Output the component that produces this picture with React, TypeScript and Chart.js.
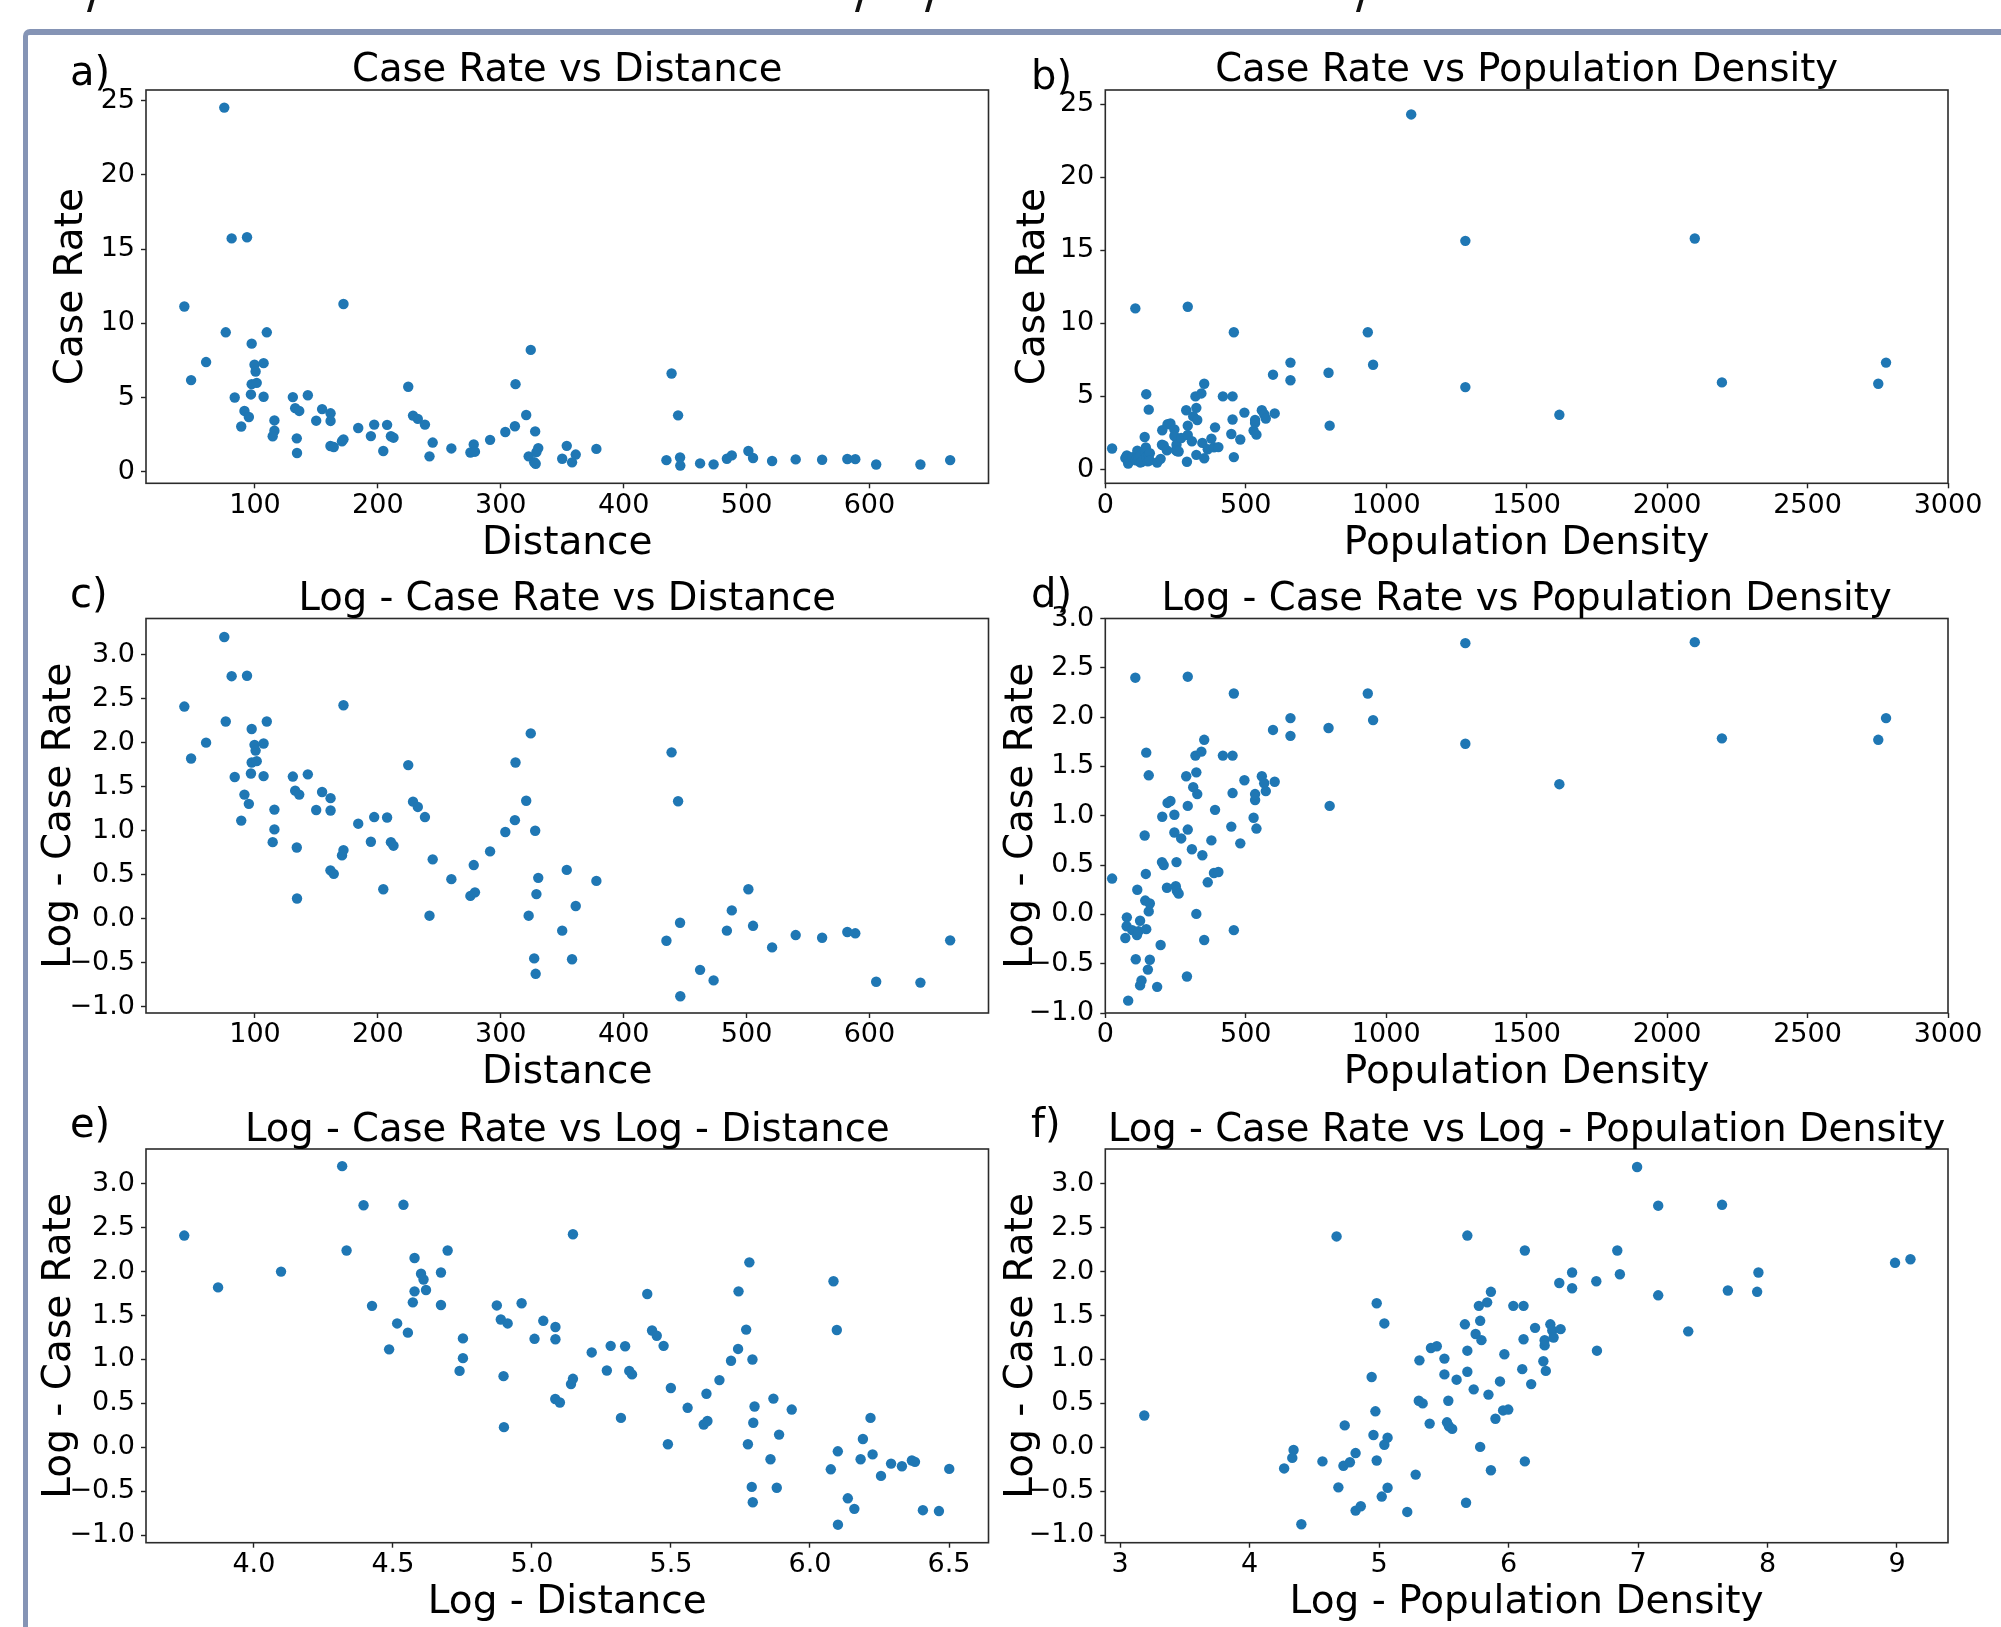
import React, { useEffect, useRef } from "react";
import { Chart, registerables } from "chart.js";

Chart.register(...registerables);

const FONT = "'DejaVu Sans', 'Liberation Sans', sans-serif";
const BLUE = "#1f77b4";

const distance = [
  75, 81, 93.5, 42.5, 172, 76.2, 109.6, 97.3, 60.2, 99.6,
  107, 100.5, 48, 97.3, 101.4, 83.5, 96.7, 107, 130.8, 143,
  91.4, 95, 88.8, 132.7, 136, 115.8, 115.8, 114.4, 134, 134.2,
  154.6, 161.5, 149.8, 161.5, 161.4, 164.1, 170.8, 172, 184, 197,
  194.3, 207.5, 210.6, 212.7, 204.4, 224.7, 228.6, 232.5, 238.3, 244.6,
  242, 259.8, 278, 275.3, 279, 291.3, 303.7, 311.5, 312, 320.7,
  324.4, 328, 322.7, 327.2, 328.4, 330.5, 329, 350, 353.7, 358,
  361, 377.8, 434.8, 439, 444.3, 445.9, 446.1, 462.2, 473.2, 484,
  488, 501.5, 505.3, 520.8, 540, 561.5, 582, 588.5, 605.5, 641.5, 665.7,
];
const logCaseRateByDistance = [
  3.2, 2.755, 2.76, 2.41, 2.425, 2.24, 2.24, 2.155, 2.0, 1.975,
  1.99, 1.91, 1.82, 1.775, 1.79, 1.61, 1.65, 1.62, 1.615, 1.64,
  1.41, 1.305, 1.115, 1.455, 1.41, 1.24, 1.015, 0.87, 0.81, 0.23,
  1.44, 1.37, 1.235, 1.23, 0.55, 0.51, 0.72, 0.78, 1.08, 1.155,
  0.875, 1.15, 0.87, 0.83, 0.335, 1.745, 1.33, 1.27, 1.155, 0.675,
  0.035, 0.45, 0.61, 0.26, 0.3, 0.765, 0.985, 1.12, 1.775, 1.34,
  2.105, 1.0, 0.035, -0.45, -0.625, 0.465, 0.28, -0.135, 0.555, -0.46,
  0.145, 0.43, -0.25, 1.89, 1.335, -0.045, -0.88, -0.58, -0.7, -0.135,
  0.095, 0.335, -0.08, -0.325, -0.185, -0.215, -0.15, -0.165, -0.715, -0.725, -0.245,
];

const logDensity = [
  3.187, 4.267, 4.34, 4.33, 4.4, 4.563, 4.672, 4.686, 4.735, 4.725,
  4.775, 4.819, 4.819, 4.859, 4.943, 4.957, 4.972, 4.982, 4.982, 5.021,
  5.041, 5.041, 5.066, 5.066, 5.218, 5.283, 5.312, 5.307, 5.337, 5.391,
  5.401, 5.446, 5.505, 5.505, 5.535, 5.525, 5.54, 5.565, 5.599, 5.663,
  5.672, 5.682, 5.682, 5.682, 5.731, 5.746, 5.771, 5.781, 5.791, 5.781,
  5.835, 5.845, 5.864, 5.864, 5.899, 5.934, 5.958, 5.968, 5.998, 6.037,
  6.106, 6.116, 6.116, 6.126, 6.126, 6.175, 6.205, 6.269, 6.279, 6.279,
  6.288, 6.323, 6.338, 6.348, 6.402, 6.392, 6.491, 6.491, 6.678, 6.683,
  6.84, 6.86, 6.993, 7.156, 7.156, 7.388, 7.649, 7.694, 7.92, 7.93, 8.985, 9.104,
];
const logCaseRateByDensity = [
  0.363, -0.24, -0.03, -0.12, -0.875, -0.16, 2.4, -0.455, 0.25, -0.21,
  -0.17, -0.065, -0.72, -0.67, 0.8, 0.14, 0.41, 1.64, -0.15, -0.56,
  1.41, 0.03, 0.11, -0.46, -0.735, -0.31, 0.99, 0.53, 0.5, 0.27,
  1.13, 1.15, 1.01, 0.83, 0.53, 0.285, 0.24, 0.21, 0.77, 1.4,
  -0.63, 2.41, 1.1, 0.86, 0.66, 1.29, 1.61, 1.44, 1.22, 0.005,
  1.65, 0.6, 1.77, -0.26, 0.325, 0.75, 0.42, 1.06, 0.43, 1.61,
  0.89, 1.61, 1.23, 2.24, -0.16, 0.72, 1.36, 0.98, 1.16, 1.22,
  0.87, 1.4, 1.33, 1.25, 1.345, 1.87, 1.99, 1.81, 1.89, 1.1,
  2.24, 1.97, 3.19, 2.75, 1.73, 1.32, 2.76, 1.785, 1.77, 1.99, 2.1, 2.14,
];

// ---- Tick values ----
const distanceTicks = [100, 200, 300, 400, 500, 600];
const densityTicks = [0, 500, 1000, 1500, 2000, 2500, 3000];
const caseRateTicks = [0, 5, 10, 15, 20, 25];
const logRateTicks = [-1, -0.5, 0, 0.5, 1, 1.5, 2, 2.5, 3];
const logDistanceTicks = [4, 4.5, 5, 5.5, 6, 6.5];
const logDensityTicks = [3, 4, 5, 6, 7, 8, 9];

const fmtInt = (v: number) => String(Math.round(v));
const fmt1 = (v: number) => v.toFixed(1).replace("-", "\u2212");

// ---- Layout (page pixels) ----
const COLS = [
  { l: 146, r: 988.5, cx: 30, cw: 968, labelX: 70 },
  { l: 1105.3, r: 1948, cx: 990, cw: 1005, labelX: 1031 },
];
const ROWS = [
  { t: 90, b: 483.3, cy: 40, ch: 530, titleY: 81, xMid: 543.5 },
  { t: 618.5, b: 1013, cy: 570, ch: 530, titleY: 610, xMid: 1073 },
  { t: 1149, b: 1542.7, cy: 1100, ch: 527, titleY: 1140.7, xMid: 1603 },
];

type Pt = { x: number; y: number };
type PanelCfg = {
  col: number;
  row: number;
  yMid: number;
  labelY: number;
  label: string;
  title: string;
  xTitle: string;
  yTitle: string;
  xMin: number;
  xMax: number;
  yMin: number;
  yMax: number;
  xTicks: number[];
  yTicks: number[];
  xFmt: (v: number) => string;
  yFmt: (v: number) => string;
  points: Pt[];
};

const setA_rate: Pt[] = distance.map((d, i) => ({ x: d, y: Math.exp(logCaseRateByDistance[i]) }));
const setA_log: Pt[] = distance.map((d, i) => ({ x: d, y: logCaseRateByDistance[i] }));
const setA_loglog: Pt[] = distance.map((d, i) => ({ x: Math.log(d), y: logCaseRateByDistance[i] }));
const setB_rate: Pt[] = logDensity.map((d, i) => ({ x: Math.exp(d), y: Math.exp(logCaseRateByDensity[i]) }));
const setB_log: Pt[] = logDensity.map((d, i) => ({ x: Math.exp(d), y: logCaseRateByDensity[i] }));
const setB_loglog: Pt[] = logDensity.map((d, i) => ({ x: d, y: logCaseRateByDensity[i] }));

const PANELS: PanelCfg[] = [
  {
    col: 0, row: 0, yMid: 72, labelY: 85, label: "a)", title: "Case Rate vs Distance",
    xTitle: "Distance", yTitle: "Case Rate",
    xMin: 11.3, xMax: 696.9, yMin: -0.78, yMax: 25.72,
    xTicks: distanceTicks, yTicks: caseRateTicks, xFmt: fmtInt, yFmt: fmtInt, points: setA_rate,
  },
  {
    col: 1, row: 0, yMid: 1034, labelY: 89, label: "b)", title: "Case Rate vs Population Density",
    xTitle: "Population Density", yTitle: "Case Rate",
    xMin: 0, xMax: 3000, yMin: -0.94, yMax: 25.96,
    xTicks: densityTicks, yTicks: caseRateTicks, xFmt: fmtInt, yFmt: fmtInt, points: setB_rate,
  },
  {
    col: 0, row: 1, yMid: 60, labelY: 607, label: "c)", title: "Log - Case Rate vs Distance",
    xTitle: "Distance", yTitle: "Log - Case Rate",
    xMin: 11.3, xMax: 696.9, yMin: -1.07, yMax: 3.41,
    xTicks: distanceTicks, yTicks: logRateTicks, xFmt: fmtInt, yFmt: fmt1, points: setA_log,
  },
  {
    col: 1, row: 1, yMid: 1021.5, labelY: 607, label: "d)", title: "Log - Case Rate vs Population Density",
    xTitle: "Population Density", yTitle: "Log - Case Rate",
    xMin: 0, xMax: 3000, yMin: -1, yMax: 3,
    xTicks: densityTicks, yTicks: logRateTicks, xFmt: fmtInt, yFmt: fmt1, points: setB_log,
  },
  {
    col: 0, row: 2, yMid: 60, labelY: 1137, label: "e)", title: "Log - Case Rate vs Log - Distance",
    xTitle: "Log - Distance", yTitle: "Log - Case Rate",
    xMin: 3.612, xMax: 6.642, yMin: -1.085, yMax: 3.395,
    xTicks: logDistanceTicks, yTicks: logRateTicks, xFmt: fmt1, yFmt: fmt1, points: setA_loglog,
  },
  {
    col: 1, row: 2, yMid: 1021.5, labelY: 1137, label: "f)", title: "Log - Case Rate vs Log - Population Density",
    xTitle: "Log - Population Density", yTitle: "Log - Case Rate",
    xMin: 2.886, xMax: 9.394, yMin: -1.085, yMax: 3.395,
    xTicks: logDensityTicks, yTicks: logRateTicks, xFmt: fmtInt, yFmt: fmt1, points: setB_loglog,
  },
];

const TITLE_SIZE = 38.5;
const AXIS_TITLE_SIZE = 39;
const TICK_SIZE = 27;
const LABEL_SIZE = 40;

const decorPlugin = {
  id: "panelDecor",
  afterDatasetsDraw(chart: any, _args: any, opts: any) {
    const ctx = chart.ctx as CanvasRenderingContext2D;
    const a = chart.chartArea;
    ctx.save();
    ctx.strokeStyle = "#2b2b2b";
    ctx.lineWidth = 1.6;
    ctx.strokeRect(a.left, a.top, a.right - a.left, a.bottom - a.top);
    ctx.fillStyle = "#000";
    ctx.textBaseline = "alphabetic";
    ctx.font = `${TITLE_SIZE}px ${FONT}`;
    ctx.textAlign = "center";
    ctx.fillText(opts.title, (a.left + a.right) / 2, opts.titleY);
    ctx.font = `${LABEL_SIZE}px ${FONT}`;
    ctx.textAlign = "left";
    ctx.fillText(opts.label, opts.labelX, opts.labelY);
    ctx.restore();
  },
};

function Panel({ cfg }: { cfg: PanelCfg }) {
  const ref = useRef<HTMLCanvasElement>(null);
  const col = COLS[cfg.col];
  const row = ROWS[cfg.row];

  useEffect(() => {
    const canvas = ref.current;
    if (!canvas) return;
    const half = AXIS_TITLE_SIZE / 2;
    const yScaleLeft = cfg.yMid - half;
    const xScaleBottom = row.xMid + half;
    const padding = {
      left: yScaleLeft - col.cx,
      top: row.t - row.cy,
      right: col.cx + col.cw - col.r,
      bottom: row.cy + row.ch - xScaleBottom,
    };
    const yWidth = col.l - yScaleLeft;
    const xHeight = xScaleBottom - row.b;

    const tickFont = { family: FONT, size: TICK_SIZE };
    const axisTitleFont = { family: FONT, size: AXIS_TITLE_SIZE, lineHeight: 1 };

    const chart = new Chart(canvas, {
      type: "scatter",
      data: {
        datasets: [
          {
            data: cfg.points,
            backgroundColor: BLUE,
            borderColor: BLUE,
            borderWidth: 0,
            pointRadius: 5.2,
            pointHoverRadius: 5.2,
          },
        ],
      },
      options: {
        responsive: false,
        animation: false,
        devicePixelRatio: 1,
        events: [],
        layout: { padding },
        plugins: {
          legend: { display: false },
          title: { display: false },
          tooltip: { enabled: false },
          panelDecor: {
            title: cfg.title,
            titleY: row.titleY - row.cy,
            label: cfg.label,
            labelX: col.labelX - col.cx,
            labelY: cfg.labelY - row.cy,
          },
        } as any,
        scales: {
          x: {
            type: "linear",
            position: "bottom",
            min: cfg.xMin,
            max: cfg.xMax,
            afterBuildTicks: (s: any) => {
              s.ticks = cfg.xTicks.map((v) => ({ value: v }));
            },
            afterFit: (s: any) => {
              s.height = xHeight;
            },
            ticks: {
              autoSkip: false,
              maxRotation: 0,
              minRotation: 0,
              padding: 1,
              color: "#000",
              font: tickFont,
              callback: (v: any) => cfg.xFmt(Number(v)),
            },
            grid: {
              drawOnChartArea: false,
              drawTicks: true,
              tickLength: 5,
              tickWidth: 1.4,
              tickColor: "#222",
            },
            border: { display: false },
            title: {
              display: true,
              text: cfg.xTitle,
              color: "#000",
              font: axisTitleFont,
              padding: 0,
            },
          },
          y: {
            type: "linear",
            position: "left",
            min: cfg.yMin,
            max: cfg.yMax,
            afterBuildTicks: (s: any) => {
              s.ticks = cfg.yTicks.map((v) => ({ value: v }));
            },
            afterFit: (s: any) => {
              s.width = yWidth;
            },
            ticks: {
              autoSkip: false,
              padding: 6,
              color: "#000",
              font: tickFont,
              callback: (v: any) => cfg.yFmt(Number(v)),
            },
            grid: {
              drawOnChartArea: false,
              drawTicks: true,
              tickLength: 5,
              tickWidth: 1.4,
              tickColor: "#222",
            },
            border: { display: false },
            title: {
              display: true,
              text: cfg.yTitle,
              color: "#000",
              font: axisTitleFont,
              padding: 0,
            },
          },
        },
      } as any,
      plugins: [decorPlugin as any],
    });
    return () => chart.destroy();
  }, []);

  return (
    <canvas
      ref={ref}
      width={col.cw}
      height={row.ch}
      style={{ position: "absolute", left: col.cx, top: row.cy, width: col.cw, height: row.ch }}
    />
  );
}

const STROKES = [89, 857, 927, 1358];

export default function App() {
  return (
    <div
      style={{
        position: "absolute",
        left: 0,
        top: 0,
        width: 2001,
        height: 1627,
        overflow: "hidden",
        background: "#fff",
      }}
    >
      {STROKES.map((x) => (
        <div
          key={x}
          style={{
            position: "absolute",
            left: x,
            top: -2,
            width: 4,
            height: 14,
            background: "#111",
            transform: "skewX(-16deg)",
          }}
        />
      ))}
      <div
        style={{
          position: "absolute",
          left: 23,
          top: 29,
          width: 2100,
          height: 1700,
          borderLeft: "5px solid #8594b5",
          borderTop: "6px solid #8594b5",
          borderTopLeftRadius: 7,
          boxSizing: "border-box",
        }}
      />
      {PANELS.map((p) => (
        <Panel key={p.label} cfg={p} />
      ))}
    </div>
  );
}
